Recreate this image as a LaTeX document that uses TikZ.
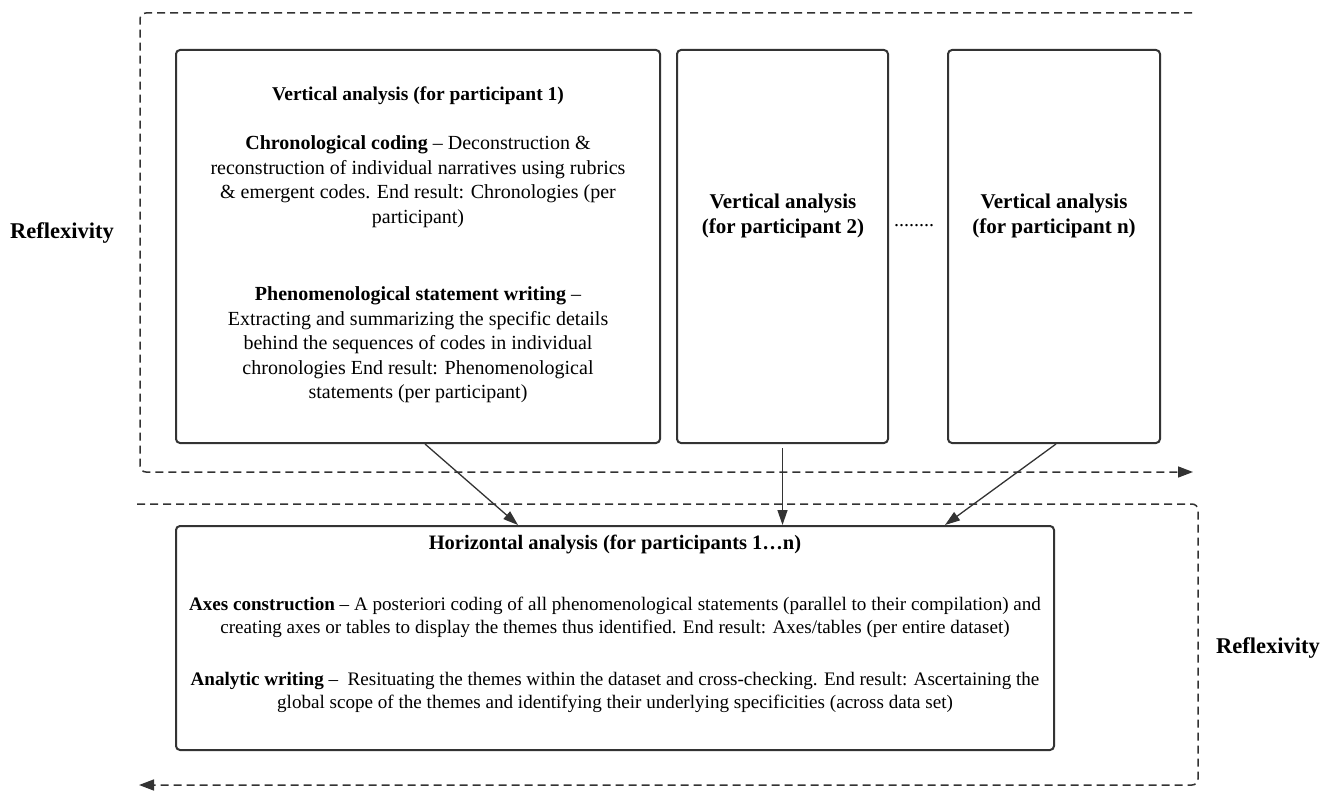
\documentclass[tikz,border=0pt]{standalone}
\usepackage{fontspec}
\setmainfont{Liberation Serif}
\usetikzlibrary{arrows.meta}
\definecolor{ink}{HTML}{333333}
\begin{document}
\begin{tikzpicture}[x=1pt,y=-1pt,
  box/.style={draw=ink, line width=2pt, rounded corners=4pt, inner sep=0pt},
  txt/.style={align=center, inner sep=0pt, text=black, font=\fontsize{20}{24.5}\selectfont},
  txtb/.style={align=center, inner sep=0pt, text=black, font=\fontsize{19.1}{23}\selectfont},
  head/.style={align=center, inner sep=0pt, text=black, font=\fontsize{19.5}{24.5}\selectfont\bfseries},
  conn/.style={draw=ink, line width=1.3pt, -{Triangle[length=15pt,width=10pt]}},
  loop/.style={draw=ink, line width=1.5pt, dash pattern=on 8pt off 5pt, rounded corners=6pt, -{Triangle[length=15pt,width=11pt]}}
]
\useasboundingbox (0,0) rectangle (1331,792);
% boxes
\node[box, minimum width=484pt, minimum height=393pt] (b1) at (418,246.5) {};
\node[box, minimum width=211pt, minimum height=393pt] (b2) at (782.5,246.5) {};
\node[box, minimum width=212pt, minimum height=393pt] (b3) at (1054,246.5) {};
\node[box, minimum width=878pt, minimum height=224pt] (h) at (615,638) {};
% box 1 text
\node[head] (t1h) at (418,96) {Vertical analysis (for participant 1)};
\node[txt] (t1a) at (418,181.5) {\textbf{Chronological coding} -- Deconstruction \&\\reconstruction of individual narratives using rubrics\\\& emergent codes. End result: Chronologies (per\\participant)};
\node[txt] (t1b) at (418,345) {\textbf{Phenomenological statement writing} --\\Extracting and summarizing the specific details\\behind the sequences of codes in individual\\chronologies End result: Phenomenological\\statements (per participant)};
% box 2 and 3 text
\node[txt, font=\fontsize{21}{25}\selectfont\bfseries] (t2) at (783,216) {Vertical analysis\\(for participant 2)};
\node[txt, font=\fontsize{21}{25}\selectfont\bfseries] (t3) at (1054,216) {Vertical analysis\\(for participant n)};
\node[txt] (dots) at (914,226) {........};
% bottom box text
\node[head, font=\fontsize{20.5}{23}\selectfont\bfseries] (th) at (615,544) {Horizontal analysis (for participants 1\ldots n)};
\node[txtb] (ta) at (615,617.5) {\textbf{Axes construction} -- A posteriori coding of all phenomenological statements (parallel to their compilation) and\\creating axes or tables to display the themes thus identified. End result: Axes/tables (per entire dataset)};
\node[txtb] (tw) at (615,692.5) {\textbf{Analytic writing} --\ \ Resituating the themes within the dataset and cross-checking. End result: Ascertaining the\\global scope of the themes and identifying their underlying specificities (across data set)};
% reflexivity labels
\node[txt, font=\fontsize{22.5}{26}\selectfont\bfseries] (r1) at (62,233) {Reflexivity};
\node[txt, font=\fontsize{22.5}{26}\selectfont\bfseries] (r2) at (1268,648) {Reflexivity};
% connectors
\draw[conn] ([xshift=7pt]b1.south) -- ([xshift=-97pt]h.north);
\draw[conn] ([yshift=-4pt]b2.south) -- (h.north -| b2.south);
\draw[conn] ([xshift=2pt]b3.south) -- ([xshift=330pt]h.north);
% reflexivity loops
\coordinate (l1s) at (1192,13);
\coordinate (l1a) at (140,13);
\coordinate (l1b) at (140,472);
\coordinate (l1e) at (1193,472);
\draw[loop] (l1s) -- (l1a) -- (l1b) -- (l1e);
\coordinate (l2s) at (137,504);
\coordinate (l2a) at (1198,504);
\coordinate (l2b) at (1198,785);
\coordinate (l2e) at (139,785);
\draw[loop] (l2s) -- (l2a) -- (l2b) -- (l2e);
\end{tikzpicture}
\end{document}
